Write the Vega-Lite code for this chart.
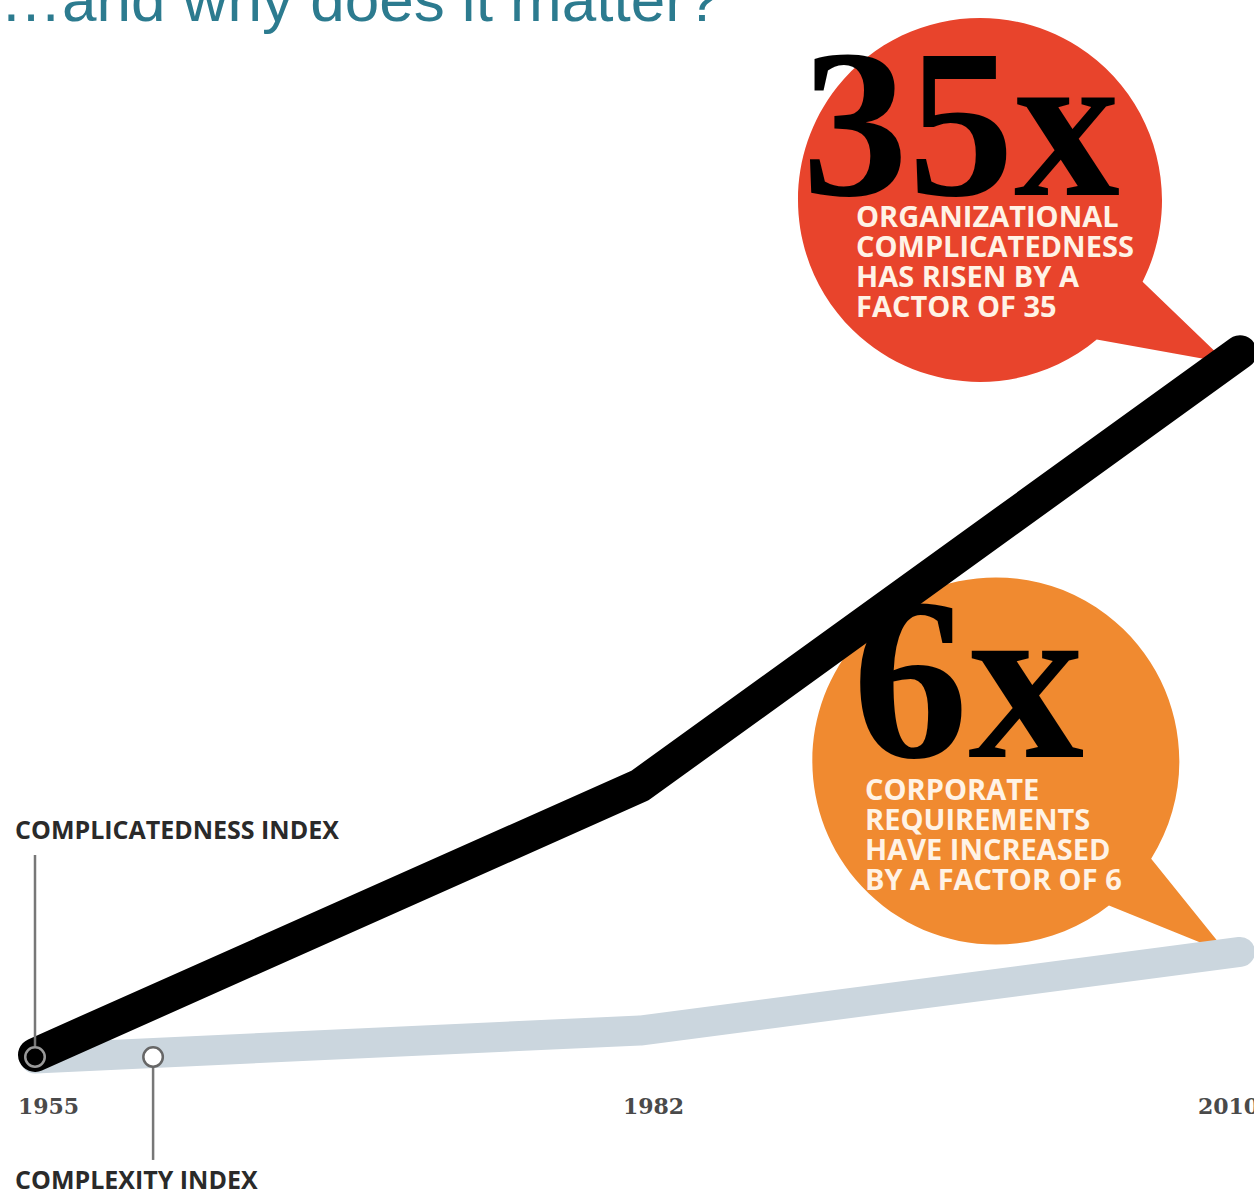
{
  "$schema": "https://vega.github.io/schema/vega-lite/v6.json",
  "width": 1254,
  "height": 1076,
  "autosize": {"type": "none"},
  "padding": {"left": 0, "top": 0, "right": 0, "bottom": 117},
  "background": "white",
  "config": {"view": {"stroke": null}},
  "datasets": {
    "lines": [
      {"series": "complicatedness", "year": 1955, "value": 1.02},
      {"series": "complicatedness", "year": 1982, "value": 14.05},
      {"series": "complicatedness", "year": 2010, "value": 35},
      {"series": "complexity", "year": 1955, "value": 0.85},
      {"series": "complexity", "year": 1982, "value": 2.2},
      {"series": "complexity", "year": 2010, "value": 6}
    ],
    "bubbles": [
      {"bubble": "35x", "year": 1997.87, "value": 42.37},
      {"bubble": "6x", "year": 1998.61, "value": 15.24}
    ],
    "headlines": [
      {"year": 1989.56, "value": 42.61, "text": "35x"},
      {"year": 1991.9, "value": 15.43, "text": "6x"}
    ],
    "captions": [
      {"year": 1992.08, "value": 41.06, "text": ["ORGANIZATIONAL", "COMPLICATEDNESS", "HAS RISEN BY A", "FACTOR OF 35"]},
      {"year": 1992.5, "value": 13.35, "text": ["CORPORATE", "REQUIREMENTS", "HAVE INCREASED", "BY A FACTOR OF 6"]}
    ],
    "indexLabels": [
      {"year": 1954.11, "value": 11.46, "text": "COMPLICATEDNESS INDEX"},
      {"year": 1954.11, "value": -5.47, "text": "COMPLEXITY INDEX"}
    ],
    "markers": [
      {"series": "complicatedness", "year": 1955, "value": 0.92},
      {"series": "complexity", "year": 1960.27, "value": 0.92}
    ],
    "leaders": [
      {"series": "complicatedness", "year": 1955, "value": 10.69, "value2": 1.45},
      {"series": "complexity", "year": 1960.27, "value": 0.44, "value2": -4.06}
    ],
    "title": [
      {"year": 1953.44, "value": 51.03, "text": "…and why does it matter?"}
    ]
  },
  "encoding": {
    "x": {
      "field": "year",
      "type": "quantitative",
      "scale": {"domain": [1955, 1982, 2010], "range": [35, 640, 1240], "nice": false, "zero": false},
      "axis": {
        "values": [1955, 1982, 2010],
        "format": "d",
        "title": null,
        "domain": false,
        "ticks": false,
        "grid": false,
        "labelFont": "DejaVu Serif",
        "labelFontWeight": "bold",
        "labelFontSize": 22,
        "labelColor": "#4a4a4a",
        "labelPadding": 20,
        "labelBaseline": "top",
        "labelAlign": "center",
        "labelOffset": {"condition": {"test": "datum.value === 2010", "value": -12}, "value": 13},
        "labelFlush": false,
        "labelOverlap": false,
        "labelBound": false
      }
    },
    "y": {
      "field": "value",
      "type": "quantitative",
      "scale": {"domain": [0, 52.04], "nice": false, "zero": false},
      "axis": null
    }
  },
  "layer": [
    {
      "data": {"name": "bubbles"},
      "transform": [{"filter": "datum.bubble === '35x'"}],
      "mark": {
        "type": "point",
        "filled": true,
        "opacity": 1,
        "color": "#e8442c",
        "strokeWidth": 0,
        "size": 132496,
        "shape": "M0.893,0.449 L1.357,0.896 L0.641,0.767 A1,1 0 1 1 0.893,0.449 Z"
      }
    },
    {
      "data": {"name": "bubbles"},
      "transform": [{"filter": "datum.bubble === '6x'"}],
      "mark": {
        "type": "point",
        "filled": true,
        "opacity": 1,
        "color": "#f08a30",
        "strokeWidth": 0,
        "size": 134689,
        "shape": "M0.846,0.533 L1.262,1.049 L0.616,0.788 A1,1 0 1 1 0.846,0.533 Z"
      }
    },
    {
      "data": {"name": "lines"},
      "transform": [{"filter": "datum.series === 'complexity'"}],
      "mark": {"type": "line", "color": "#cbd6de", "strokeWidth": 30, "strokeCap": "round", "strokeJoin": "round"}
    },
    {
      "data": {"name": "lines"},
      "transform": [{"filter": "datum.series === 'complicatedness'"}],
      "mark": {"type": "line", "color": "#000000", "strokeWidth": 34, "strokeCap": "round", "strokeJoin": "round"}
    },
    {
      "data": {"name": "leaders"},
      "mark": {"type": "rule", "color": "#777777", "strokeWidth": 2.5},
      "encoding": {"y2": {"field": "value2"}}
    },
    {
      "data": {"name": "markers"},
      "transform": [{"filter": "datum.series === 'complicatedness'"}],
      "mark": {"type": "point", "shape": "circle", "filled": false, "size": 380, "stroke": "#9a9a9a", "strokeWidth": 2.5, "opacity": 1}
    },
    {
      "data": {"name": "markers"},
      "transform": [{"filter": "datum.series === 'complexity'"}],
      "mark": {"type": "point", "shape": "circle", "filled": true, "size": 380, "fill": "#ffffff", "stroke": "#666666", "strokeWidth": 2.5, "opacity": 1}
    },
    {
      "data": {"name": "headlines"},
      "mark": {"type": "text", "font": "Liberation Serif", "fontWeight": "bold", "fontSize": 212, "align": "left", "baseline": "alphabetic", "color": "#000000"},
      "transform": [{"filter": "datum.text === '35x'"}],
      "encoding": {"text": {"field": "text"}}
    },
    {
      "data": {"name": "headlines"},
      "mark": {"type": "text", "font": "Liberation Serif", "fontWeight": "bold", "fontSize": 232, "align": "left", "baseline": "alphabetic", "color": "#000000"},
      "transform": [{"filter": "datum.text === '6x'"}],
      "encoding": {"text": {"field": "text"}}
    },
    {
      "data": {"name": "captions"},
      "mark": {"type": "text", "font": "Open Sans", "fontWeight": "bold", "fontSize": 29, "lineHeight": 30, "align": "left", "baseline": "alphabetic", "color": "#fff3e6"},
      "encoding": {"text": {"field": "text"}}
    },
    {
      "data": {"name": "indexLabels"},
      "mark": {"type": "text", "font": "Open Sans", "fontWeight": "bold", "fontSize": 25, "align": "left", "baseline": "alphabetic", "color": "#2a2a2a"},
      "encoding": {"text": {"field": "text"}}
    },
    {
      "data": {"name": "title"},
      "mark": {"type": "text", "font": "Liberation Sans", "fontSize": 62, "align": "left", "baseline": "alphabetic", "color": "#2c7b8f"},
      "encoding": {"text": {"field": "text"}}
    }
  ]
}
